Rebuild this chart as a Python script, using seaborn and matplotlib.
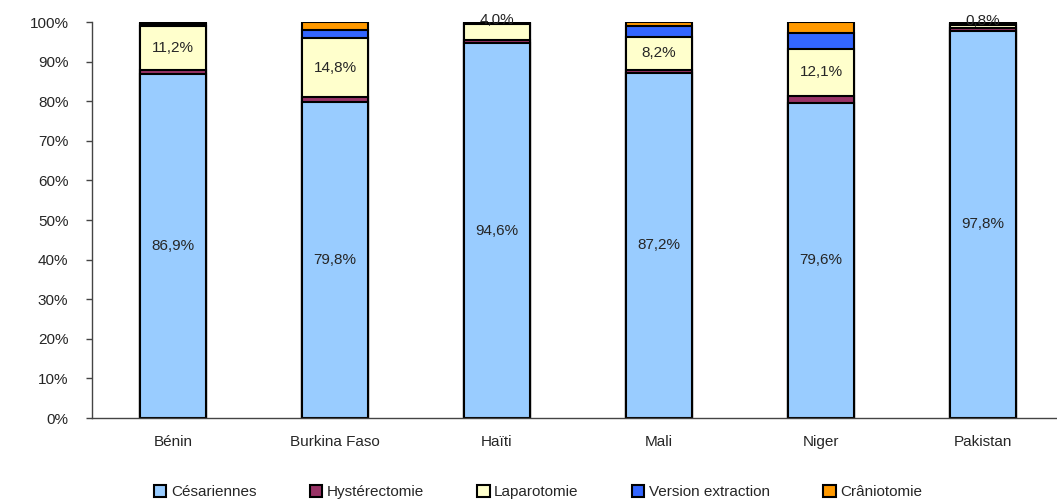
import numpy as np
import pandas as pd
import matplotlib
matplotlib.use("Agg")
import matplotlib.pyplot as plt
from matplotlib.patches import Patch
import seaborn as sns

# values in %
pays = ["Bénin", "Burkina Faso", "Haïti", "Mali", "Niger", "Pakistan"]
cesariennes = [86.9, 79.8, 94.6, 87.2, 79.6, 97.8]
hysterectomie = [0.9, 1.3, 0.8, 0.8, 1.6, 0.6]
laparotomie = [11.2, 14.8, 4.0, 8.2, 12.1, 0.8]
version_extraction = [0.5, 2.2, 0.3, 2.7, 3.8, 0.4]
craniotomie = [0.5, 1.9, 0.3, 1.1, 2.9, 0.4]

series = ["Césariennes", "Hystérectomie", "Laparotomie", "Version extraction", "Crâniotomie"]
colors = ["#99CCFF", "#993366", "#FFFFCC", "#3366FF", "#FF9900"]
y_ticks = [0, 10, 20, 30, 40, 50, 60, 70, 80, 90, 100]

sns.set_style("white")
plt.rcParams["font.family"] = ["Liberation Sans", "DejaVu Sans"]
plt.rcParams["font.size"] = 11

df = pd.DataFrame({
    "Pays": pays,
    "Césariennes": cesariennes,
    "Hystérectomie": hysterectomie,
    "Laparotomie": laparotomie,
    "Version extraction": version_extraction,
    "Crâniotomie": craniotomie,
})

# cumulative totals, drawn from the top layer down
cum = df[series].cumsum(axis=1)

fig = plt.figure(figsize=(10.57, 4.99), dpi=100)
ax = fig.add_axes([92 / 1057, 81 / 499, 972 / 1057, 396 / 499])

for name, col in reversed(list(zip(series, colors))):
    sns.barplot(x=df["Pays"], y=cum[name], color=col, width=0.41,
                edgecolor="black", linewidth=1.5, saturation=1,
                errorbar=None, ax=ax)

# data labels for Césariennes and Laparotomie
for i in range(len(pays)):
    c = cesariennes[i]
    ax.text(i, c / 2, f"{c:.1f}".replace(".", ",") + "%",
            ha="center", va="center", fontsize=11)
    lap = laparotomie[i]
    lo = cum["Hystérectomie"][i]
    hi = cum["Laparotomie"][i]
    txt = f"{lap:.1f}".replace(".", ",") + "%"
    if lap < 5:
        ax.text(i, hi - 0.6, txt, ha="center", va="bottom", fontsize=11)
    else:
        ax.text(i, (lo + hi) / 2, txt, ha="center", va="center", fontsize=11)

ax.set_xlim(-0.5, len(pays) - 0.5)
ax.set_ylim(0, 100)
ax.set_yticks(y_ticks)
ax.set_yticklabels([f"{t}%" for t in y_ticks])
ax.set_xticks(range(len(pays)))
ax.set_xticklabels(pays)
ax.set_xticks(np.arange(-0.5, len(pays), 1), minor=True)
ax.tick_params(axis="x", which="major", length=0, pad=12, labelsize=11)
ax.tick_params(axis="x", which="minor", length=4, width=1, color="#444444", direction="out")
ax.tick_params(axis="y", length=4, width=1, color="#444444", pad=13, labelsize=11, left=True)
ax.set_xlabel("")
ax.set_ylabel("")
sns.despine(ax=ax)
for s in ["left", "bottom"]:
    ax.spines[s].set_color("#444444")
    ax.spines[s].set_linewidth(1)

handles = [Patch(facecolor=c, edgecolor="black", linewidth=1.5, label=n)
           for n, c in zip(series, colors)]
fig.legend(handles=handles, loc="center left", bbox_to_anchor=(148 / 1057, 7 / 499),
           ncol=5, frameon=False, fontsize=11, handlelength=0.8, handleheight=0.8,
           handletextpad=0.3, columnspacing=3.5, borderaxespad=0)

fig.savefig("out.png", dpi=100)
